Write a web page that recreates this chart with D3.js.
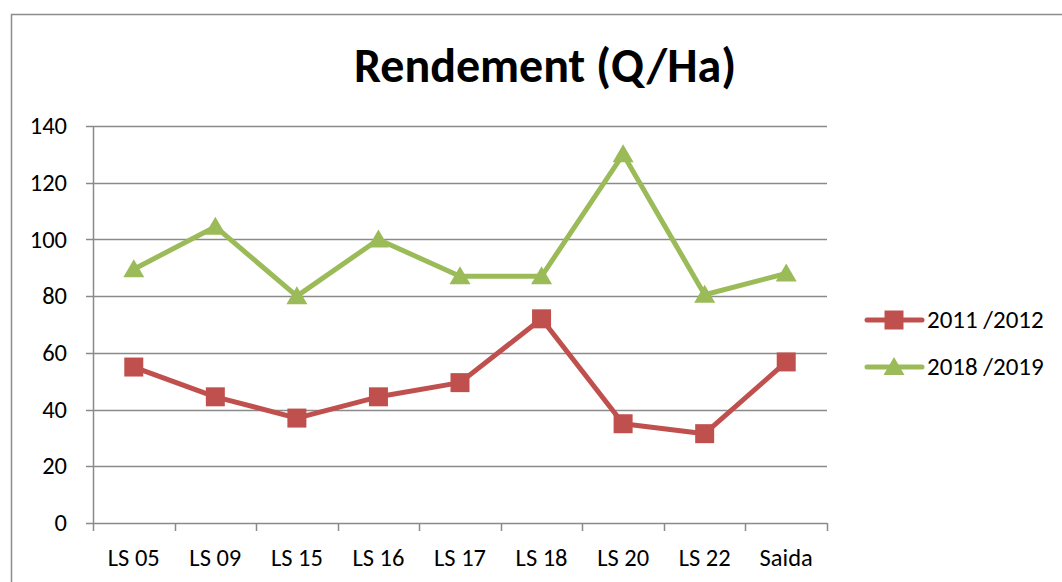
<!DOCTYPE html>
<html>
<head>
<meta charset="utf-8">
<script src="https://cdn.jsdelivr.net/npm/d3@7"></script>
<style>
  body { margin: 0; background: #fff; }
  text { font-family: Carlito, Calibri, Lato, "Open Sans", sans-serif; fill: #000; }
</style>
</head>
<body>
<div id="chart"></div>
<script>
var width_chart = 1062,
    height_chart = 582;

// data
var categories = ["LS 05", "LS 09", "LS 15", "LS 16", "LS 17", "LS 18", "LS 20", "LS 22", "Saida"];
var values_2012 = [55, 44.5, 37, 44.5, 49.5, 72, 35, 31.5, 56.8];
var values_2019 = [89.5, 104.5, 80, 100, 87, 87, 130, 80.5, 88];
var series_names = ["2011 /2012", "2018 /2019"];
var y_ticks = [0, 20, 40, 60, 80, 100, 120, 140];

var color_red = "#c0504d",
    color_green = "#9bbb59",
    color_grid = "#8a8a8a";

var margin = { left: 93, right: 827, top: 126, bottom: 523 };

var svg = d3.select("#chart").append("svg")
    .attr("width", width_chart)
    .attr("height", height_chart);

// outer chart border (only left and top are visible)
svg.append("path")
    .attr("d", "M11.5,582 L11.5,14.5 L1062,14.5")
    .attr("fill", "none")
    .attr("stroke", "#8c8c8c")
    .attr("stroke-width", 1.5);

var x = d3.scaleBand()
    .domain(categories)
    .range([margin.left, margin.right]);

var y = d3.scaleLinear()
    .domain([0, 140])
    .range([margin.bottom, margin.top]);

// gridlines
svg.append("g").selectAll("line")
    .data(y_ticks)
    .enter().append("line")
    .attr("x1", margin.left - 7)
    .attr("x2", margin.right)
    .attr("y1", function(d) { return Math.round(y(d)) + 0.5; })
    .attr("y2", function(d) { return Math.round(y(d)) + 0.5; })
    .attr("stroke", color_grid)
    .attr("stroke-width", 1.5);

// y axis line
svg.append("line")
    .attr("x1", margin.left + 0.5).attr("x2", margin.left + 0.5)
    .attr("y1", margin.top).attr("y2", margin.bottom + 8)
    .attr("stroke", color_grid)
    .attr("stroke-width", 1.5);

// x axis ticks at category boundaries
var boundaries = categories.map(function(c) { return x(c) + x.bandwidth(); });
svg.append("g").selectAll("line")
    .data(boundaries)
    .enter().append("line")
    .attr("x1", function(d) { return Math.round(d) + 0.5; })
    .attr("x2", function(d) { return Math.round(d) + 0.5; })
    .attr("y1", margin.bottom)
    .attr("y2", margin.bottom + 8)
    .attr("stroke", color_grid)
    .attr("stroke-width", 1.5);

// y labels
svg.append("g").selectAll("text")
    .data(y_ticks)
    .enter().append("text")
    .attr("x", 67)
    .attr("y", function(d) { return y(d); })
    .attr("dy", "0.33em")
    .attr("text-anchor", "end")
    .style("font-size", "24.5px")
    .text(function(d) { return d; });

// x labels
svg.append("g").selectAll("text")
    .data(categories)
    .enter().append("text")
    .attr("x", function(d) { return x(d) + x.bandwidth() / 2; })
    .attr("y", 566)
    .attr("text-anchor", "middle")
    .style("font-size", "24.5px")
    .text(function(d) { return d; });

// title
svg.append("text")
    .attr("x", 545)
    .attr("y", 82)
    .attr("text-anchor", "middle")
    .style("font-size", "48px")
    .style("font-weight", "bold")
    .text("Rendement (Q/Ha)");

var line = d3.line()
    .x(function(d, i) { return x(categories[i]) + x.bandwidth() / 2; })
    .y(function(d) { return y(d); });

function draw_series(values, color, symbol) {
    svg.append("path")
        .datum(values)
        .attr("d", line)
        .attr("fill", "none")
        .attr("stroke", color)
        .attr("stroke-width", 5)
        .attr("stroke-linejoin", "round");

    svg.append("g").selectAll("path")
        .data(values)
        .enter().append("path")
        .attr("transform", function(d, i) {
            return "translate(" + (x(categories[i]) + x.bandwidth() / 2) + "," + y(d) + ")";
        })
        .attr("d", symbol)
        .attr("fill", color);
}

var square = d3.symbol().type(d3.symbolSquare).size(19 * 19);
var triangle = function() { return "M0,-10 L10.5,8 L-10.5,8 Z"; };

draw_series(values_2012, color_red, square);
draw_series(values_2019, color_green, triangle);

// legend
var legend_items = [
    { name: series_names[0], color: color_red, symbol: square, y: 320 },
    { name: series_names[1], color: color_green, symbol: triangle, y: 367 }
];

var legend = svg.append("g").selectAll("g")
    .data(legend_items)
    .enter().append("g");

legend.append("line")
    .attr("x1", 867).attr("x2", 922)
    .attr("y1", function(d) { return d.y; })
    .attr("y2", function(d) { return d.y; })
    .attr("stroke", function(d) { return d.color; })
    .attr("stroke-width", 5)
    .attr("stroke-linecap", "round");

legend.append("path")
    .attr("transform", function(d) { return "translate(894," + d.y + ")"; })
    .attr("d", function(d) { return d.symbol(); })
    .attr("fill", function(d) { return d.color; });

legend.append("text")
    .attr("x", 927)
    .attr("y", function(d) { return d.y; })
    .attr("dy", "0.33em")
    .style("font-size", "25px")
    .text(function(d) { return d.name; });
</script>
</body>
</html>
